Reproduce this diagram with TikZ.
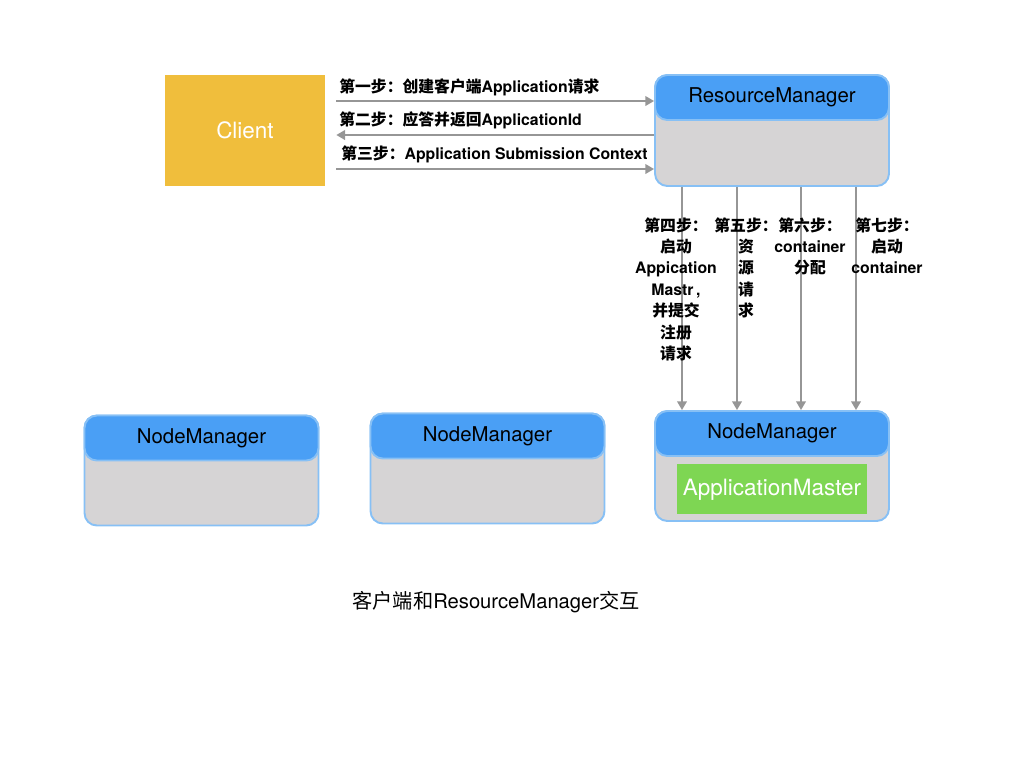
\documentclass[tikz,border=0pt]{standalone}
\usepackage{fontspec}
\setmainfont{TeX Gyre Heros}
\newfontfamily\zh{Noto Sans CJK SC}
\usetikzlibrary{positioning,arrows.meta}
\definecolor{hdblue}{RGB}{74,159,245}
\definecolor{edgeblue}{RGB}{135,192,245}
\definecolor{boxgray}{RGB}{214,212,213}
\definecolor{clyellow}{RGB}{240,190,60}
\definecolor{amgreen}{RGB}{126,214,83}
\definecolor{arrgray}{RGB}{150,150,150}

\begin{document}
\begin{tikzpicture}[x=0.02cm,y=-0.02cm,
    box/.style={draw=edgeblue,line width=1.1pt,fill=boxgray,rounded corners=7pt,minimum width=4.68cm,minimum height=2.2cm},
    hd/.style={draw=edgeblue,line width=1.1pt,fill=hdblue,rounded corners=7pt,minimum width=4.68cm,minimum height=0.9cm,anchor=north,font=\fontsize{11.6}{14}\selectfont},
    arr/.style={draw=arrgray,line width=1.1pt,-{Triangle[length=5pt,width=5.5pt]}},
    lab/.style={font=\fontsize{9}{12.2}\selectfont\bfseries,inner sep=0pt}]
  \useasboundingbox (0,0) rectangle (1024,768);

  \node[fill=clyellow,minimum width=3.2cm,minimum height=2.22cm,text=white,font=\fontsize{12.8}{15}\selectfont] (cl) at (245,130.5) {Client};
  \node[box,minimum height=2.22cm] (rm) at (772,130.5) {};
  \node[hd] (rmh) at (rm.north) {ResourceManager};

  \node[box] (nm1) at (201.5,470.5) {};
  \node[hd] at (nm1.north) {NodeManager};
  \node[box] (nm2) at (487.5,468.5) {};
  \node[hd] at (nm2.north) {NodeManager};
  \node[box] (nm3) at (772,466) {};
  \node[hd] (nm3h) at (nm3.north) {NodeManager};
  \node[fill=amgreen,minimum width=3.76cm,minimum height=1cm,text=white,font=\fontsize{12.8}{15}\selectfont,below=0.14cm of nm3h] (am) {ApplicationMaster};

  \draw[arr] (cl.east |- 0,101) [shorten <=0.22cm] -- (rm.west |- 0,101);
  \draw[arr] (rm.west |- 0,135) -- (cl.east |- 0,135) [shorten >=0.22cm];
  \draw[arr] (cl.east |- 0,169) [shorten <=0.22cm] -- (rm.west |- 0,169);
  \node[lab,anchor=west] (s1) at (339,87) {{\zh 第一步：创建客户端}Application{\zh 请求}};
  \node[lab,anchor=west] (s2) at (339,120) {{\zh 第二步：应答并返回}ApplicationId};
  \node[lab,anchor=west] (s3) at (341,154) {{\zh 第三步：}Application Submission Context};

  \foreach \x in {682,737,801,856}
    \draw[arr] (\x,0 |- rm.south) -- (\x,0 |- nm3.north);
  \node[lab,align=center,anchor=north] (s4) at (676,217) {{\zh 第四步：}\\{\zh 启动}\\Appication\\Mastr\,,\\{\zh 并提交}\\{\zh 注册}\\{\zh 请求}};
  \node[lab,align=center,anchor=north] (s5) at (746,217) {{\zh 第五步：}\\{\zh 资}\\{\zh 源}\\{\zh 请}\\{\zh 求}};
  \node[lab,align=center,anchor=north] (s6) at (810,217) {{\zh 第六步：}\\container\\{\zh 分配}};
  \node[lab,align=center,anchor=north] (s7) at (887,217) {{\zh 第七步：}\\{\zh 启动}\\container};

  \node[font=\fontsize{11.5}{14}\selectfont] (cap) at (496,602) {{\zh 客户端和}ResourceManager{\zh 交互}};
\end{tikzpicture}
\end{document}
